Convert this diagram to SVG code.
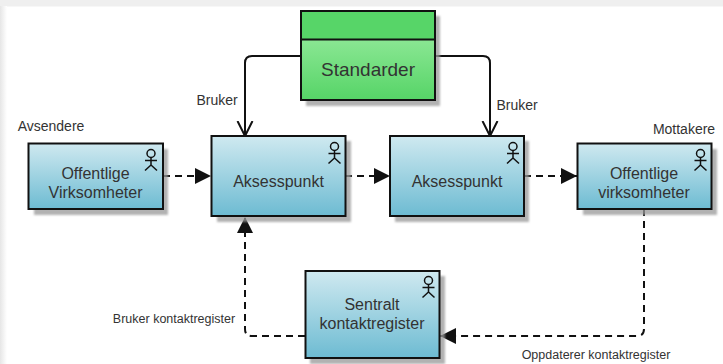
<svg xmlns="http://www.w3.org/2000/svg" width="723" height="364" viewBox="0 0 723 364">
<style>
text{font-family:"Liberation Sans",Arial,sans-serif;fill:#333;text-anchor:middle}
.n{font-size:16px}
.l{font-size:14px}
.s{font-size:12.500px}
.box{fill:url(#blue);stroke:#111;stroke-width:2}
.sh{fill:#999;opacity:.75;filter:url(#blur)}
.c{fill:none;stroke:#111;stroke-width:2}
.d{stroke-dasharray:7 5}
.a{fill:none;stroke:#111;stroke-width:1.5}
</style>
<defs>
<linearGradient id="blue" x1="0" y1="0" x2="0" y2="1"><stop offset="0" stop-color="#cfe9f0"/><stop offset="1" stop-color="#6dbbd2"/></linearGradient>
<linearGradient id="green" x1="0" y1="0" x2="0" y2="1"><stop offset="0" stop-color="#a3f0a8"/><stop offset="1" stop-color="#56d467"/></linearGradient>
<linearGradient id="edge" x1="0" y1="0" x2="1" y2="0"><stop offset="0" stop-color="#e6e6e6"/><stop offset="1" stop-color="#fff"/></linearGradient>
<filter id="blur" x="-5%" y="-5%" width="110%" height="110%"><feGaussianBlur stdDeviation="0.8"/></filter>
<g id="actor" class="a"><circle cx="0" cy="4.500" r="4"/><path d="M0 8.500V16M-6 11.500H6M0 16L-6 21.500M0 16L6 21.500"/></g>
<marker id="tri" markerUnits="userSpaceOnUse" markerWidth="16" markerHeight="18" refX="16" refY="8" orient="auto"><path d="M0 0L16 8L0 16Z" fill="#111"/></marker>
<marker id="open" markerUnits="userSpaceOnUse" markerWidth="18" markerHeight="20" refX="15" refY="9" orient="auto"><path d="M0 1.500L15 9L0 16.500" fill="none" stroke="#111" stroke-width="2"/></marker>
</defs>
<rect width="723" height="364" fill="#fff"/>
<rect width="723" height="6.500" fill="#efefef"/>
<rect y="6" width="7" height="358" fill="url(#edge)"/>
<g id="connectors">
<path class="c" marker-end="url(#open)" d="M301 56H252Q245 56 245 63V136"/>
<path class="c" marker-end="url(#open)" d="M435 56H483Q490 56 490 63V136"/>
<path class="c d" marker-end="url(#tri)" d="M163 176H211"/>
<path class="c d" marker-end="url(#tri)" d="M345 176H390"/>
<path class="c d" marker-end="url(#tri)" d="M524 176H577"/>
<path class="c d" marker-end="url(#tri)" d="M644 209V329Q644 336 637 336H440"/>
<path class="c d" marker-end="url(#tri)" d="M305 336H252Q245 336 245 329V217"/>
</g>
<g id="standarder">
<rect class="sh" x="306" y="16" width="134" height="90"/>
<rect x="301" y="11" width="134" height="89" fill="url(#green)" stroke="#111" stroke-width="2"/>
<rect x="301" y="11" width="134" height="28.500" fill="#57d568" stroke="#111" stroke-width="2"/>
<text x="368" y="75.500" style="font-size:19px">Standarder</text>
</g>
<g id="offentlige-avsender">
<rect class="sh" x="34" y="149" width="134" height="66"/>
<rect class="box" x="28.500" y="143.500" width="134.500" height="65.500"/>
<use href="#actor" x="151" y="149"/>
<text class="n" x="95.500" y="179">Offentlige</text>
<text class="n" x="95.500" y="198">Virksomheter</text>
</g>
<g id="aksesspunkt-1">
<rect class="sh" x="217" y="141" width="134" height="81"/>
<rect class="box" x="211.500" y="136" width="134" height="80"/>
<use href="#actor" x="334.500" y="142"/>
<text class="n" x="278.500" y="187">Aksesspunkt</text>
</g>
<g id="aksesspunkt-2">
<rect class="sh" x="395" y="141" width="134" height="81"/>
<rect class="box" x="390" y="136" width="134" height="80"/>
<use href="#actor" x="513" y="142"/>
<text class="n" x="457" y="187">Aksesspunkt</text>
</g>
<g id="offentlige-mottaker">
<rect class="sh" x="583" y="149" width="134" height="66"/>
<rect class="box" x="577.500" y="143.500" width="134" height="65.500"/>
<use href="#actor" x="700.500" y="149"/>
<text class="n" x="644" y="179">Offentlige</text>
<text class="n" x="644" y="198">virksomheter</text>
</g>
<g id="sentralt">
<rect class="sh" x="310" y="276" width="135" height="88"/>
<rect class="box" x="305.500" y="271" width="134" height="87"/>
<use href="#actor" x="428.500" y="276"/>
<text class="n" x="372" y="310">Sentralt</text>
<text class="n" x="372" y="329">kontaktregister</text>
</g>
<g id="labels">
<text class="l" x="51" y="131">Avsendere</text>
<text class="l" x="217" y="104.500">Bruker</text>
<text class="l" x="517" y="109.500">Bruker</text>
<text class="l" x="684" y="133.500">Mottakere</text>
<text class="s" x="174" y="323">Bruker kontaktregister</text>
<text class="s" x="596" y="359">Oppdaterer kontaktregister</text>
</g>
</svg>
